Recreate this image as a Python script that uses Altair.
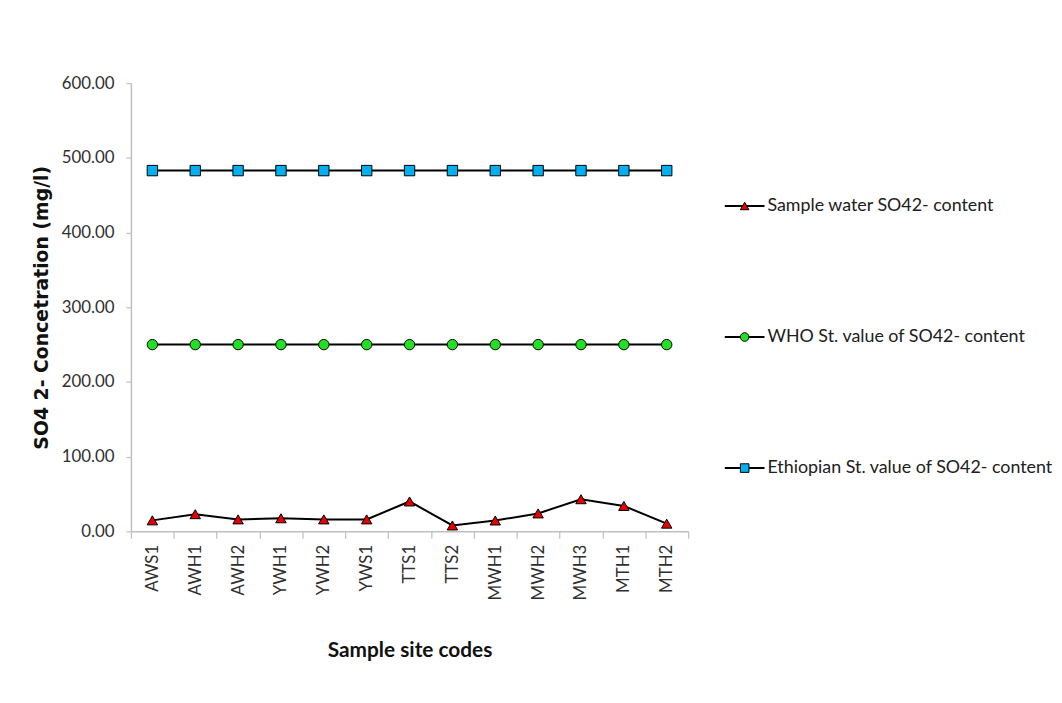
import altair as alt
import pandas as pd

sites = ["AWS1", "AWH1", "AWH2", "YWH1", "YWH2", "YWS1", "TTS1", "TTS2",
         "MWH1", "MWH2", "MWH3", "MTH1", "MTH2"]
sample = [14.7, 23.0, 16.0, 17.5, 16.0, 16.0, 40.0, 7.9, 14.5, 24.0, 43.0, 34.0, 10.3]
who = [250, 250, 250, 250, 250, 250, 250, 250, 250, 250, 250, 250, 250]
ethiopian = [483, 483, 483, 483, 483, 483, 483, 483, 483, 483, 483, 483, 483]

series = ["Sample water SO42- content",
          "WHO St. value of SO42- content",
          "Ethiopian St. value of SO42- content"]
shapes = ["triangle-up", "circle", "square"]
fills = ["#e60000", "#22e022", "#00b0f0"]

rows = []
for name, vals in zip(series, [sample, who, ethiopian]):
    for s, v in zip(sites, vals):
        rows.append({"site": s, "series": name, "value": v})
df = pd.DataFrame(rows)

LBL = "Lato"

x_enc = alt.X("site:N", sort=sites,
              scale=alt.Scale(type="band", paddingInner=0, paddingOuter=0),
              axis=alt.Axis(title="Sample site codes", labelAngle=-90, tickBand="extent",
                            labelFont=LBL, labelFontSize=17, labelColor="#303030",
                            labelPadding=6, tickSize=7, tickColor="#bfbfbf", domainColor="#bfbfbf",
                            domainWidth=1.5, tickWidth=1.2,
                            titleFont=LBL, titleFontSize=21, titleFontWeight="bold",
                            titleColor="#111111", titlePadding=40, grid=False))
y_enc = alt.Y("value:Q",
              scale=alt.Scale(domain=[0, 600], nice=False, zero=True),
              axis=alt.Axis(title="SO4 2- Concetration (mg/l)", values=[0, 100, 200, 300, 400, 500, 600],
                            format=".2f", labelFont=LBL, labelFontSize=17, labelColor="#303030",
                            labelPadding=12, tickSize=5, tickColor="#bfbfbf", domainColor="#bfbfbf",
                            domainWidth=1.5, tickWidth=1.2,
                            titleFont="DejaVu Sans", titleFontSize=19, titleFontWeight="bold",
                            titleColor="#111111", titlePadding=10, grid=False))

lines = alt.Chart(df).mark_line(color="black", strokeWidth=2).encode(
    x=x_enc, y=y_enc, detail="series:N")
points = alt.Chart(df).mark_point(filled=True, stroke="black", strokeWidth=1, opacity=1, size=110).encode(
    x=x_enc, y=y_enc,
    shape=alt.Shape("series:N", scale=alt.Scale(domain=series, range=shapes), legend=None),
    fill=alt.Fill("series:N", scale=alt.Scale(domain=series, range=fills), legend=None))

main = alt.layer(lines, points).properties(width=562, height=452)

leg_df = pd.DataFrame({"series": series})
leg_y = alt.Y("series:N", sort=series,
              scale=alt.Scale(type="point", padding=0.71, align=0.66), axis=None)
leg_rule = alt.Chart(leg_df).mark_rule(color="black", strokeWidth=2).encode(
    x=alt.value(0), x2=alt.value(40), y=leg_y)
leg_pts = alt.Chart(leg_df).mark_point(filled=True, stroke="black", strokeWidth=1, opacity=1, size=75).encode(
    x=alt.value(20), y=leg_y,
    shape=alt.Shape("series:N", scale=alt.Scale(domain=series, range=shapes), legend=None),
    fill=alt.Fill("series:N", scale=alt.Scale(domain=series, range=fills), legend=None))
leg_txt = alt.Chart(leg_df).mark_text(align="left", baseline="middle", font=LBL, fontSize=18,
                                      color="#202020").encode(
    x=alt.value(43), y=leg_y, text="series:N")
legend = alt.layer(leg_rule, leg_pts, leg_txt).properties(width=300, height=452)

chart = alt.hconcat(main, legend, spacing=35).resolve_scale(
    shape="independent", fill="independent"
).properties(
    padding={"left": 24, "top": 64, "right": 0, "bottom": 5}
).configure(background="white").configure_view(stroke=None)

chart.save("out.html", embed_options={"renderer": "svg", "actions": False})
